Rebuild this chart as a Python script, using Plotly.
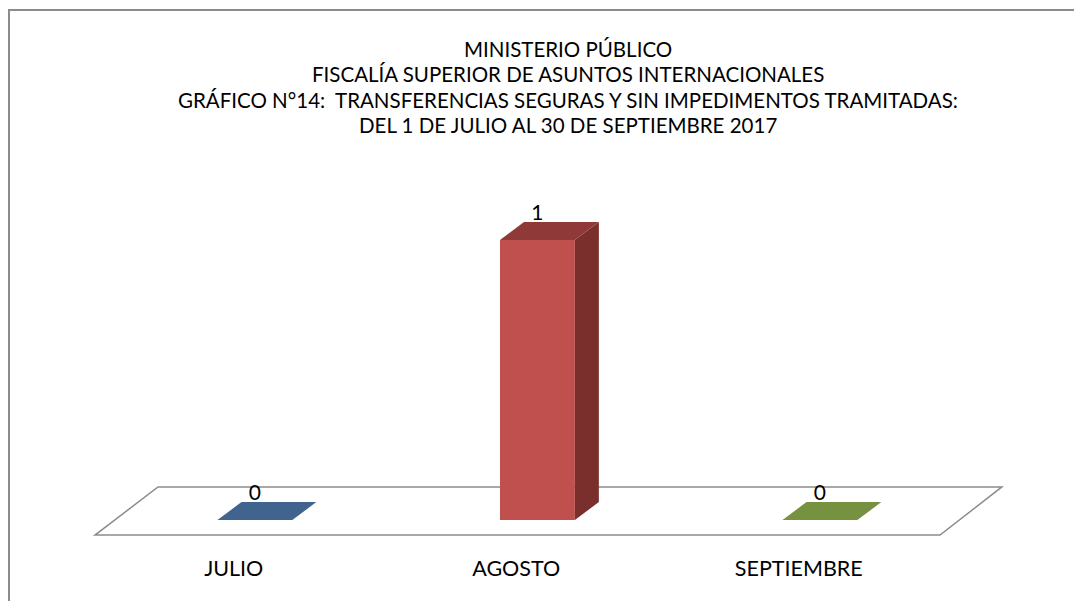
import plotly.graph_objects as go

# datos del gráfico
meses = ["JULIO", "AGOSTO", "SEPTIEMBRE"]
valores = [0, 1, 0]
colores_frente = ["#4F81BD", "#C0504D", "#9BBB59"]
colores_techo = ["#41648F", "#8F3A38", "#76913F"]
colores_lado = ["#34507A", "#7B2F2D", "#5F7631"]

lineas_titulo = [
    "MINISTERIO PÚBLICO",
    "FISCALÍA SUPERIOR DE ASUNTOS INTERNACIONALES",
    "GRÁFICO N°14:  TRANSFERENCIAS SEGURAS Y SIN IMPEDIMENTOS TRAMITADAS:",
    "DEL 1 DE JULIO AL 30 DE SEPTIEMBRE 2017",
]

FUENTE = "Lato, sans-serif"

# geometría del efecto 3D (en unidades de los ejes)
ancho = 0.265
prof_x = 0.085
prof_y = 0.064

idx = list(range(len(meses)))

fig = go.Figure()

# cara frontal
fig.add_trace(go.Bar(
    x=idx, y=valores, width=ancho,
    marker=dict(color=colores_frente, line=dict(width=0)),
    hoverinfo="skip", showlegend=False,
))

# caras superior y lateral
w = ancho / 2
for i, v in enumerate(valores):
    fig.add_trace(go.Scatter(
        x=[i + w, i + w, i + w + prof_x, i + w + prof_x, i + w],
        y=[0, v, v + prof_y, prof_y, 0],
        fill="toself", fillcolor=colores_lado[i], mode="lines",
        line=dict(width=0), hoverinfo="skip", showlegend=False,
    ))
    fig.add_trace(go.Scatter(
        x=[i - w, i + w, i + w + prof_x, i - w + prof_x, i - w],
        y=[v, v, v + prof_y, v + prof_y, v],
        fill="toself", fillcolor=colores_techo[i], mode="lines",
        line=dict(width=0), hoverinfo="skip", showlegend=False,
    ))

# etiquetas de valor
fig.add_trace(go.Scatter(
    x=idx, y=[v + prof_y - 0.01 for v in valores], text=[str(v) for v in valores],
    mode="text", textposition="top center",
    textfont=dict(family=FUENTE, size=21, color="black"),
    hoverinfo="skip", showlegend=False,
))

# etiquetas de categoría
fig.add_trace(go.Scatter(
    x=[i - 0.075 for i in idx], y=[-0.182] * len(meses), text=meses,
    mode="text", textposition="middle center",
    textfont=dict(family=FUENTE, size=21.5, color="black"),
    hoverinfo="skip", showlegend=False,
))

# suelo en perspectiva
suelo = "M -0.566 -0.054 L 2.425 -0.054 L 2.644 0.118 L -0.343 0.118 Z"
fig.add_shape(type="path", path=suelo, xref="x", yref="y", layer="below",
              line=dict(color="#8C8C8C", width=1.5))

# borde del área del gráfico
fig.add_shape(type="rect", xref="paper", yref="paper",
              x0=1 / 1082, x1=1.02, y0=-0.02, y1=1 - 2 / 601,
              line=dict(color="#8C8C8C", width=2))

# título en cuatro líneas
for k, linea in enumerate(lineas_titulo):
    fig.add_annotation(
        text=linea, xref="paper", yref="paper",
        x=560 / 1082, y=1 - (41 + 25.3 * k) / 601,
        xanchor="center", yanchor="middle", showarrow=False,
        font=dict(family=FUENTE, size=20.5, color="black"),
    )

fig.update_layout(
    width=1082, height=601, autosize=False,
    margin=dict(l=0, r=0, t=0, b=0),
    paper_bgcolor="white", plot_bgcolor="white",
    xaxis=dict(range=[-0.874, 2.956], visible=False, fixedrange=True),
    yaxis=dict(range=[-0.3179, 1.8286], visible=False, fixedrange=True),
    showlegend=False,
)

fig.write_html("out.html")
